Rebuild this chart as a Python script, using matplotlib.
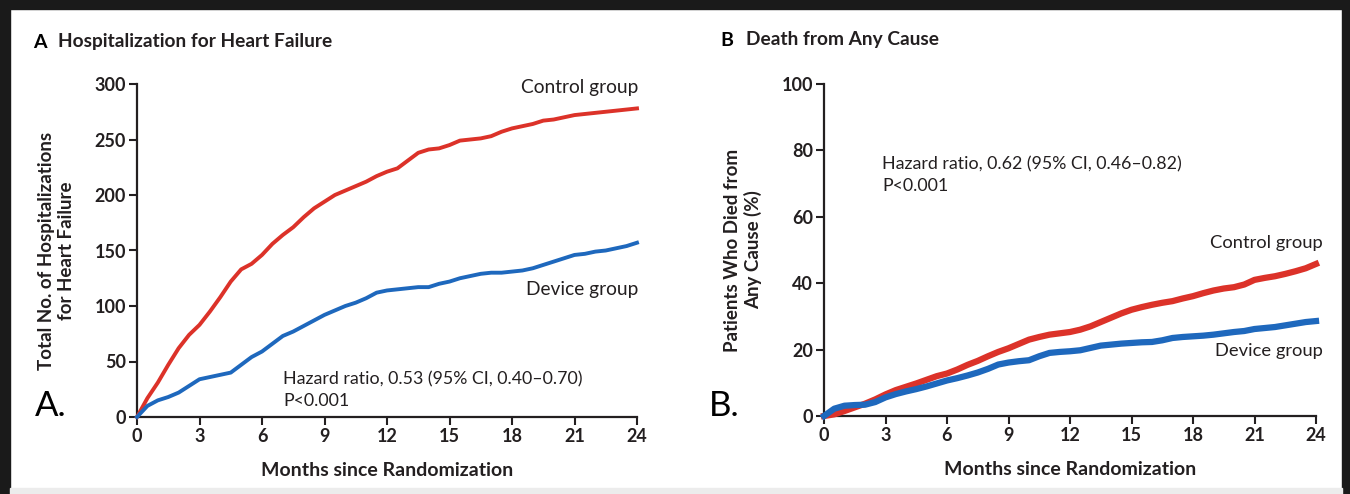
import matplotlib
matplotlib.use('Agg')
import matplotlib.pyplot as plt
import numpy as np
from matplotlib.patches import Rectangle

plt.rcParams['font.family'] = ['Lato', 'DejaVu Sans']

# months, every half month
months = np.arange(0, 24.5, 0.5)

# A: total hospitalizations for heart failure
hosp_control = [0, 17, 31, 47, 62, 74, 83, 95, 108, 122, 133, 138, 146, 156, 164, 171,
                180, 188, 194, 200, 204, 208, 212, 217, 221, 224, 231, 238, 241, 242,
                245, 249, 250, 251, 253, 257, 260, 262, 264, 267, 268, 270, 272, 273,
                274, 275, 276, 277, 278]
hosp_device = [0, 10, 15, 18, 22, 28, 34, 36, 38, 40, 47, 54, 59, 66, 73, 77, 82, 87,
               92, 96, 100, 103, 107, 112, 114, 115, 116, 117, 117, 120, 122, 125, 127,
               129, 130, 130, 131, 132, 134, 137, 140, 143, 146, 147, 149, 150, 152,
               154, 157]

# B: death from any cause (%)
death_control = [0, 0.5, 1.5, 2.6, 3.7, 5, 6.5, 7.8, 8.8, 9.8, 10.9, 12, 12.8, 14, 15.4,
                 16.6, 18, 19.3, 20.4, 21.7, 23, 23.8, 24.5, 24.9, 25.3, 26, 27, 28.3,
                 29.6, 30.9, 32, 32.8, 33.5, 34.1, 34.6, 35.4, 36.1, 37, 37.8, 38.4,
                 38.8, 39.6, 41, 41.6, 42.1, 42.8, 43.6, 44.5, 45.8]
death_device = [0, 2.2, 3.1, 3.3, 3.4, 4.2, 5.6, 6.6, 7.4, 8.1, 8.9, 9.8, 10.7, 11.4,
                12.2, 13.1, 14.2, 15.5, 16.1, 16.5, 16.8, 18, 19, 19.3, 19.5, 19.8, 20.5,
                21.2, 21.5, 21.8, 22, 22.2, 22.3, 22.8, 23.5, 23.8, 24, 24.2, 24.5, 24.9,
                25.3, 25.6, 26.2, 26.5, 26.8, 27.3, 27.8, 28.3, 28.6]

x_ticks = [0, 3, 6, 9, 12, 15, 18, 21, 24]

RED = '#dc3229'
BLUE = '#1e68bd'
INK = '#231f20'

W, H = 1350, 494
fig = plt.figure(figsize=(W / 100, H / 100), dpi=100)


def px(x, y):
    return x / W, 1 - y / H


def style_axes(ax, ymax, ystep):
    for s in ['top', 'right']:
        ax.spines[s].set_visible(False)
    for s in ['left', 'bottom']:
        ax.spines[s].set_linewidth(1.6)
        ax.spines[s].set_color(INK)
    ax.set_xlim(0, 24)
    ax.set_ylim(0, ymax)
    ax.set_xticks(x_ticks)
    ax.set_yticks(np.arange(0, ymax + 1, ystep))
    ax.tick_params(direction='out', length=6, width=1.5, color=INK,
                   labelsize=13, labelcolor=INK, pad=2)
    for lab in ax.get_xticklabels() + ax.get_yticklabels():
        lab.set_family(['Liberation Sans Narrow', 'Lato', 'DejaVu Sans'])
        lab.set_fontweight('bold')
    ax.set_xlabel('Months since Randomization', fontsize=14, fontweight='bold',
                  color=INK, labelpad=12)
    ax.patch.set_alpha(0)


# panel A
axA = fig.add_axes([137 / W, 77 / H, 500 / W, 333 / H])
axA.plot(months, hosp_control, color=RED, lw=2.8, clip_on=False, zorder=3)
axA.plot(months, hosp_device, color=BLUE, lw=2.8, clip_on=False, zorder=3)
style_axes(axA, 300, 50)
axA.set_ylabel('Total No. of Hospitalizations\nfor Heart Failure', fontsize=13.5,
               fontweight='bold', color=INK, labelpad=14, linespacing=1.2)

# panel B
axB = fig.add_axes([824 / W, 78 / H, 492 / W, 332 / H])
axB.plot(months, death_control, color=RED, lw=4.5, clip_on=False, zorder=3)
axB.plot(months, death_device, color=BLUE, lw=4.5, clip_on=False, zorder=3)
style_axes(axB, 100, 20)
axB.set_ylabel('Patients Who Died from\nAny Cause (%)', fontsize=13.5,
               fontweight='bold', color=INK, labelpad=14, linespacing=1.2)

# titles
fig.text(*px(33, 42), 'A', fontsize=14, fontweight='bold', color='black', va='center')
fig.text(*px(58, 42), 'Hospitalization for Heart Failure', fontsize=13.8,
         fontweight='bold', color=INK, va='center')
fig.text(*px(720, 40), 'B', fontsize=14, fontweight='bold', color='black', va='center')
fig.text(*px(746, 40), 'Death from Any Cause', fontsize=13.8, fontweight='bold',
         color=INK, va='center')

# panel markers
fig.text(*px(35, 406), 'A.', fontsize=25, color='black', va='center')
fig.text(*px(709, 406), 'B.', fontsize=25, color='black', va='center')

# annotations
fig.text(*px(283, 390), 'Hazard ratio, 0.53 (95% CI, 0.40\u20130.70)\nP<0.001',
         fontsize=12.8, color=INK, va='center', linespacing=1.4)
fig.text(*px(882, 175), 'Hazard ratio, 0.62 (95% CI, 0.46\u20130.82)\nP<0.001',
         fontsize=12.8, color=INK, va='center', linespacing=1.4)
fig.text(*px(638, 88), 'Control group', fontsize=13.8, color=INK, ha='right', va='center')
fig.text(*px(638, 290), 'Device group', fontsize=13.8, color=INK, ha='right', va='center')
fig.text(*px(1323, 243), 'Control group', fontsize=13.2, color=INK, ha='right', va='center')
fig.text(*px(1323, 351), 'Device group', fontsize=13.2, color=INK, ha='right', va='center')

# outer frame
frame_color = '#1a1a1a'
fig.patches.append(Rectangle((0, 1 - 9 / H), 1, 9 / H, transform=fig.transFigure,
                             color=frame_color, zorder=0))
fig.patches.append(Rectangle((0, 0), 10 / W, 1, transform=fig.transFigure,
                             color=frame_color, zorder=0))
fig.patches.append(Rectangle((1 - 8 / W, 0), 8 / W, 1, transform=fig.transFigure,
                             color=frame_color, zorder=0))
fig.patches.append(Rectangle((10 / W, 0), 1 - 18 / W, 6 / H, transform=fig.transFigure,
                             color='#ececec', zorder=0))

fig.savefig('out.png', dpi=100)
